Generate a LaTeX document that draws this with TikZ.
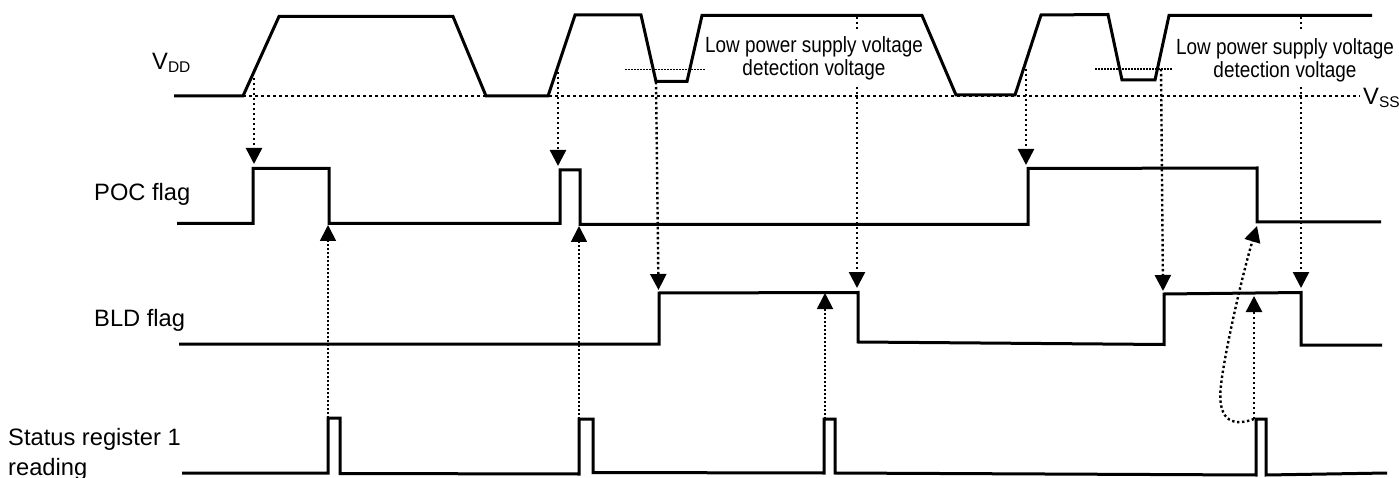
\documentclass[tikz,border=0pt]{standalone}
\usepackage{fontspec}
\setmainfont{Liberation Sans}
\usetikzlibrary{arrows.meta}
\usetikzlibrary{positioning}
\newcommand{\lowidx}[1]{\raisebox{-3pt}{\fontsize{15.5}{15.5}\selectfont #1}}
\tikzset{
	signal/.style={line width=3pt,line join=miter},
	flagarrow/.style={line width=2.4pt,dash pattern=on 2.4pt off 2.6pt,-{Triangle[width=16pt,length=16pt]}},
	readarrow/.style={line width=1.8pt,dash pattern=on 1.8pt off 2.2pt,-{Triangle[width=16pt,length=16pt]}},
	level/.style={line width=1.4pt,dash pattern=on 1.5pt off 1.5pt},
	lbl/.style={anchor=base west,inner sep=0pt,font=\fontsize{23.7}{26}\selectfont},
	note/.style={align=center,fill=white,inner sep=0pt,minimum height=55pt,transform shape,xscale=0.86,font=\fontsize{22}{23}\selectfont}
}
\begin{document}
\begin{tikzpicture}[x=1pt,y=-1pt]
	\useasboundingbox (0,0) rectangle (1399,478);

	\coordinate (vssA) at (243,96);
	\coordinate (vssB) at (1360,96);
	\coordinate (lvlA) at (625,69.5);
	\coordinate (lvlB) at (705,69.5);
	\coordinate (lvlC) at (1095,69);
	\coordinate (lvlD) at (1172,69);

	\coordinate (vdd1) at (254,78);
	\coordinate (vdd2) at (558,72);
	\coordinate (vdd3) at (656,82);
	\coordinate (vdd4) at (857,17);
	\coordinate (vdd5) at (1026,69);
	\coordinate (vdd6) at (1161,69);
	\coordinate (vdd7) at (1301,17);

	\coordinate (poc1) at (254,164);
	\coordinate (poc2) at (558,166);
	\coordinate (poc3) at (1026,165);
	\coordinate (poc4) at (328,225);
	\coordinate (poc5) at (579,226);
	\coordinate (poc6) at (1257,226);

	\coordinate (bld1) at (658.5,290);
	\coordinate (bld2) at (857,288);
	\coordinate (bld3) at (1163,291);
	\coordinate (bld4) at (1301,288);
	\coordinate (bld5) at (825,293);
	\coordinate (bld6) at (1254,296);

	\coordinate (str1) at (328,418);
	\coordinate (str2) at (579,419);
	\coordinate (str3) at (825,419);
	\coordinate (str4) at (1254,419);

	\draw[line width=2.6pt,dash pattern=on 3pt off 3pt] (vssA) -- (vssB);
	\draw[level] (lvlA) -- (lvlB);
	\draw[level] (lvlC) -- (lvlD);

	\draw[signal] (174,96) -- (243,96) -- (279,16.5) -- (453,16.5) -- (486,96) -- (548,96) -- (575,15) -- (641,15) -- (656,81.5) -- (687,81.5) -- (702,15.5) -- (922,15.5) -- (956,95) -- (1015,95) -- (1041,15) -- (1108,14.5) -- (1122,80) -- (1155,80) -- (1169,15.5) -- (1372,15.5);
	\draw[signal] (177,223.5) -- (253,223.5) -- (253,168.5) -- (329,168.5) -- (329,223.5) -- (560,223.5) -- (560,170) -- (580,170) -- (580,224.5) -- (1028,224.5) -- (1028,168.5) -- (1257,168) -- (1257,222) -- (1381,222);
	\draw[signal] (179,344) -- (659,344) -- (659,293) -- (858,292.5) -- (858,342) -- (1164,344.5) -- (1164,294) -- (1301,292.5) -- (1301,345) -- (1382,345);
	\draw[signal] (182,473) -- (328,473) -- (328,418) -- (340,418) -- (340,473.5) -- (579,474) -- (579,419) -- (593,419) -- (593,472.5) -- (824,473) -- (824,419) -- (835,419) -- (835,473) -- (1256,475) -- (1256,419) -- (1266,419) -- (1266,475) -- (1387,473);

	\draw[flagarrow] (vdd1) -- (poc1);
	\draw[flagarrow] (vdd2) -- (poc2);
	\draw[flagarrow] (vdd3) -- (bld1);
	\draw[flagarrow] (vdd4) -- (bld2);
	\draw[flagarrow] (vdd5) -- (poc3);
	\draw[flagarrow] (vdd6) -- (bld3);
	\draw[flagarrow] (vdd7) -- (bld4);

	\draw[readarrow] (str1) -- (poc4);
	\draw[readarrow] (str2) -- (poc5);
	\draw[readarrow] (str3) -- (bld5);
	\draw[flagarrow] (str4) -- (bld6);
	\draw[flagarrow] (str4) .. controls (1230,428) and (1217,418) .. (1221,385) .. controls (1225,350) and (1243,272) .. (poc6);

	\node[note] (lowA) at (814,58.5) {Low power supply voltage\\detection voltage};
	\node[note] (lowB) at (1285,60) {Low power supply voltage\\detection voltage};

	\node[lbl] (vdd) at (152,70) {V\lowidx{DD}};
	\node[lbl] (vss) at (1363,105) {V\lowidx{SS}};
	\node[lbl] (poc) at (94,201) {POC flag};
	\node[lbl] (bld) at (94,326) {BLD flag};
	\node[lbl] (str) at (8,445) {Status register 1};
	\node[lbl] (rd) at (8,475) {reading};
\end{tikzpicture}
\end{document}
